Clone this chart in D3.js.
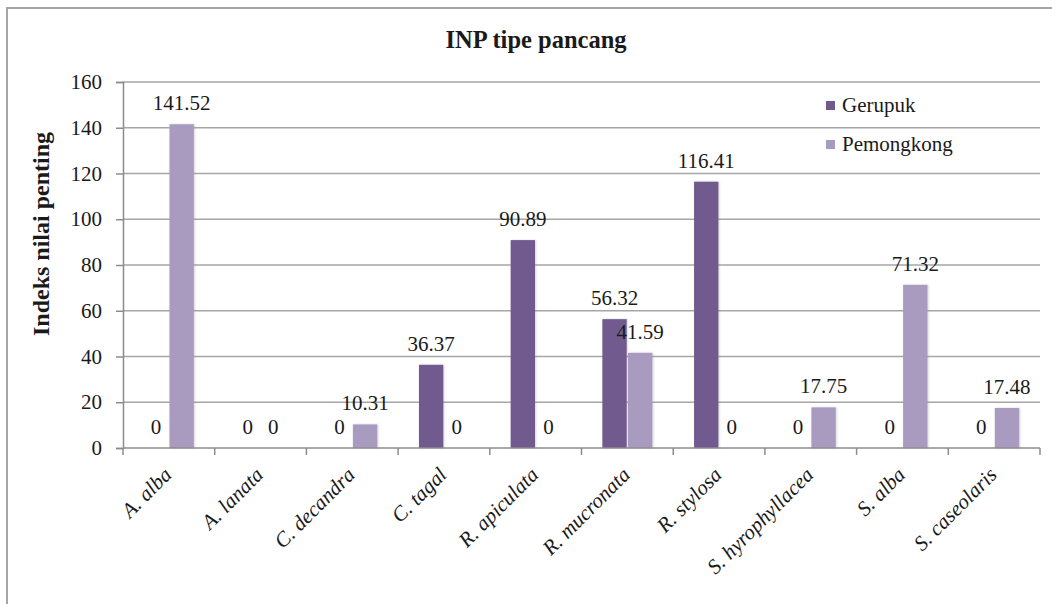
<!DOCTYPE html>
<html>
<head>
<meta charset="utf-8">
<script src="https://cdn.jsdelivr.net/npm/d3@7"></script>
<style>
    body { margin: 0; background: #fff; }
    #chart-inp { width: 1052px; height: 604px; }
</style>
</head>
<body>
<div id="chart-inp"></div>
<script>
// Data INP tipe pancang
let jenis = ['A. alba', 'A. lanata', 'C. decandra', 'C. tagal', 'R. apiculata', 'R. mucronata', 'R. stylosa', 'S. hyrophyllacea', 'S. alba', 'S. caseolaris'];
let lokasi = ['Gerupuk', 'Pemongkong'];
let gerupuk = [0, 0, 0, 36.37, 90.89, 56.32, 116.41, 0, 0, 0];
let pemongkong = [141.52, 0, 10.31, 0, 0, 41.59, 0, 17.75, 71.32, 17.48];
let yTicks = [0, 20, 40, 60, 80, 100, 120, 140, 160];
let colores = ['#705a8e', '#a99bc0'];
let fuente = '"Liberation Serif", "Times New Roman", serif';

function getChart() {
    let chartBlock = d3.select('#chart-inp');
    let margin = {top: 82, right: 12, bottom: 156, left: 123};
    let width = 1052 - margin.left - margin.right,
        height = 604 - margin.top - margin.bottom;

    let svg = chartBlock.append('svg')
        .attr('width', 1052)
        .attr('height', 604)
        .style('font-family', fuente);

    //Sombra suave de las barras
    let filter = svg.append('defs').append('filter')
        .attr('id', 'sombra')
        .attr('x', '-20%').attr('y', '-5%')
        .attr('width', '140%').attr('height', '110%');
    filter.append('feDropShadow')
        .attr('dx', 1).attr('dy', 0)
        .attr('stdDeviation', 1)
        .attr('flood-color', '#888')
        .attr('flood-opacity', 0.35);

    //Marco exterior
    svg.append('path')
        .attr('d', 'M7,604V8H1052')
        .attr('fill', 'none')
        .attr('stroke', '#a6a6a6')
        .attr('stroke-width', 2);

    //Título
    svg.append('text')
        .attr('x', 536)
        .attr('y', 48)
        .attr('text-anchor', 'middle')
        .style('font-family', fuente)
        .style('font-size', '24.5px')
        .style('font-weight', 'bold')
        .attr('fill', '#1a1a1a')
        .text('INP tipe pancang');

    let chart = svg.append('g')
        .attr('transform', 'translate(' + margin.left + ',' + margin.top + ')');

    let data = jenis.map(function(d, i) {
        return {jenis: d, valores: [gerupuk[i], pemongkong[i]]};
    });

    //Escalas
    let x = d3.scaleBand()
        .domain(jenis)
        .range([0, width])
        .paddingInner(0.455)
        .paddingOuter(0.2275);

    let x1 = d3.scaleBand()
        .domain(lokasi)
        .range([0, x.bandwidth()])
        .paddingInner(0.05);

    let y = d3.scaleLinear()
        .domain([0, 160])
        .range([height, 0]);

    //Rejilla horizontal
    chart.append('g')
        .selectAll('line')
        .data(yTicks.filter(function(d) { return d > 0; }))
        .enter()
        .append('line')
        .attr('x1', 0)
        .attr('x2', width)
        .attr('y1', function(d) { return y(d); })
        .attr('y2', function(d) { return y(d); })
        .attr('stroke', '#a6a6a6')
        .attr('stroke-width', 1.5);

    //Eje Y
    let yAxis = function(g) {
        g.call(d3.axisLeft(y).tickValues(yTicks).tickSize(7).tickPadding(14));
        g.attr('font-family', null).attr('font-size', null);
        g.selectAll('.tick line').attr('stroke', '#8c8c8c').attr('stroke-width', 1.5);
        g.select('.domain').attr('stroke', '#8c8c8c').attr('stroke-width', 1.5);
        g.selectAll('.tick text')
            .style('font-size', '21px')
            .style('font-family', fuente)
            .attr('fill', '#1a1a1a');
    };
    chart.append('g').call(yAxis);

    //Título eje Y
    svg.append('text')
        .attr('transform', 'translate(49,234) rotate(-90)')
        .attr('text-anchor', 'middle')
        .style('font-family', fuente)
        .style('font-size', '24px')
        .style('font-weight', 'bold')
        .attr('fill', '#1a1a1a')
        .text('Indeks nilai penting');

    //Barras
    let grupos = chart.selectAll('.grupo')
        .data(data)
        .enter()
        .append('g')
        .attr('class', 'grupo')
        .attr('transform', function(d) { return 'translate(' + x(d.jenis) + ',0)'; });

    grupos.selectAll('rect')
        .data(function(d) { return d.valores.map(function(v, i) { return {lokasi: lokasi[i], valor: v}; }); })
        .enter()
        .append('rect')
        .filter(function(d) { return d.valor > 0; })
        .attr('x', function(d) { return x1(d.lokasi); })
        .attr('width', x1.bandwidth())
        .attr('y', function(d) { return y(d.valor); })
        .attr('height', function(d) { return y(0) - y(d.valor); })
        .attr('fill', function(d) { return colores[lokasi.indexOf(d.lokasi)]; })
        .attr('filter', 'url(#sombra)');

    //Etiquetas de valores
    grupos.selectAll('.valor')
        .data(function(d) { return d.valores.map(function(v, i) { return {lokasi: lokasi[i], valor: v}; }); })
        .enter()
        .append('text')
        .attr('class', 'valor')
        .attr('x', function(d) { return x1(d.lokasi) + x1.bandwidth() / 2; })
        .attr('y', function(d) { return y(d.valor) - 14; })
        .attr('text-anchor', 'middle')
        .style('font-family', fuente)
        .style('font-size', '21px')
        .attr('fill', '#1a1a1a')
        .text(function(d) { return d.valor === 0 ? '0' : d.valor.toFixed(2); });

    //Eje X
    let step = x.step();
    let xg = chart.append('g').attr('transform', 'translate(0,' + height + ')');
    xg.append('line')
        .attr('x1', 0).attr('x2', width)
        .attr('stroke', '#8c8c8c').attr('stroke-width', 1.5);
    xg.selectAll('.tick-x')
        .data(d3.range(jenis.length + 1))
        .enter()
        .append('line')
        .attr('class', 'tick-x')
        .attr('x1', function(d) { return d * step; })
        .attr('x2', function(d) { return d * step; })
        .attr('y1', 0).attr('y2', 7)
        .attr('stroke', '#8c8c8c').attr('stroke-width', 1.5);
    xg.selectAll('.label-x')
        .data(jenis)
        .enter()
        .append('text')
        .attr('class', 'label-x')
        .attr('transform', function(d) {
            return 'translate(' + (x(d) + x.bandwidth() / 2 + 4) + ',28) rotate(-45)';
        })
        .attr('text-anchor', 'end')
        .style('font-family', fuente)
        .style('font-size', '21px')
        .style('font-style', 'italic')
        .attr('fill', '#1a1a1a')
        .text(function(d) { return d; });

    //Leyenda
    let legend = svg.append('g').attr('transform', 'translate(826,0)');
    let items = legend.selectAll('.item')
        .data(lokasi)
        .enter()
        .append('g')
        .attr('class', 'item')
        .attr('transform', function(d, i) { return 'translate(0,' + (101 + i * 39) + ')'; });
    items.append('rect')
        .attr('width', 9)
        .attr('height', 9)
        .attr('fill', function(d, i) { return colores[i]; });
    items.append('text')
        .attr('x', 16)
        .attr('y', 11)
        .style('font-family', fuente)
        .style('font-size', '21px')
        .attr('fill', '#1a1a1a')
        .text(function(d) { return d; });
}

getChart();
</script>
</body>
</html>
